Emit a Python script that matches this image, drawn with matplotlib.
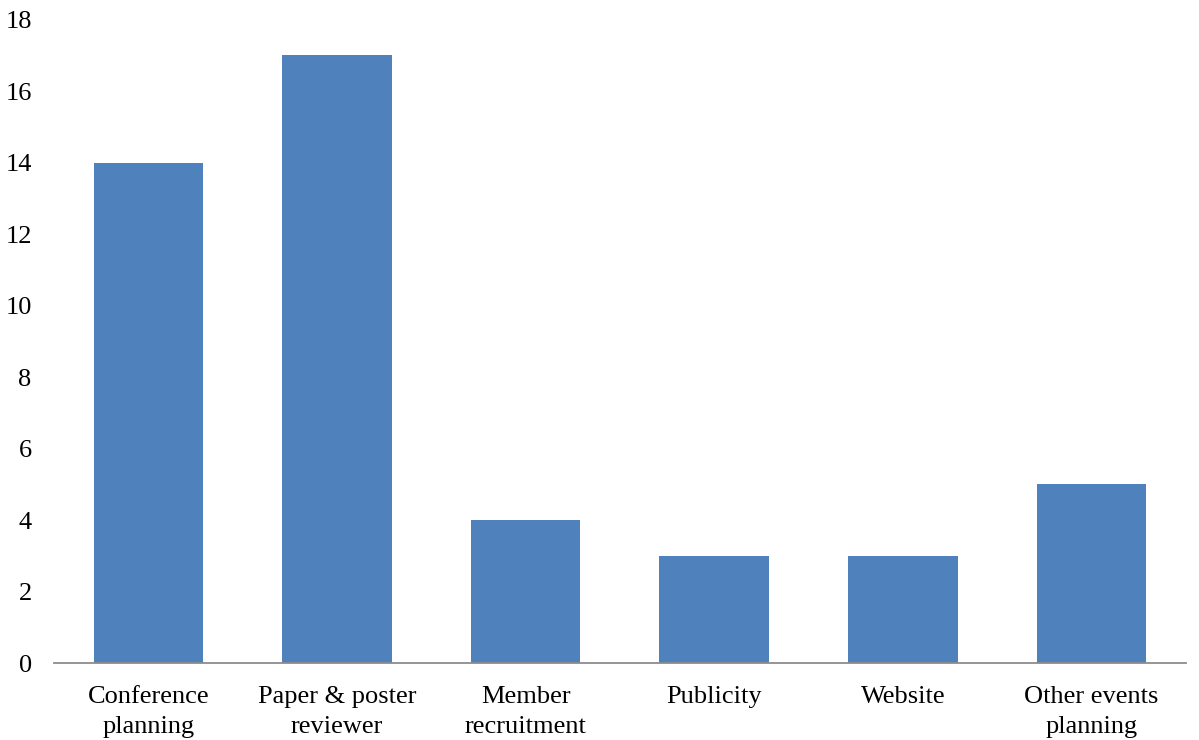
import matplotlib
matplotlib.use("Agg")
import matplotlib.pyplot as plt

categories = ["Conference\nplanning", "Paper & poster\nreviewer", "Member\nrecruitment",
              "Publicity", "Website", "Other events\nplanning"]
counts = [14, 17, 4, 3, 3, 5]
y_ticks = [0, 2, 4, 6, 8, 10, 12, 14, 16, 18]

plt.rcParams["font.family"] = ["Liberation Serif", "DejaVu Serif"]

fig = plt.figure(figsize=(11.99, 7.40), dpi=100)
ax = fig.add_axes([0.045, 0.104, 0.944, 0.8696])

x = range(len(categories))
ax.bar(x, counts, width=0.58, color="#4F81BD", zorder=2)

ax.set_xlim(-0.5, len(categories) - 0.5)
ax.set_ylim(0, 18)
ax.set_yticks(y_ticks)
ax.set_yticklabels([str(v) for v in y_ticks])
ax.set_xticks(list(x))
ax.set_xticklabels(categories)

for side in ["top", "right", "left"]:
    ax.spines[side].set_visible(False)
ax.spines["bottom"].set_color("#8C8C8C")
ax.spines["bottom"].set_linewidth(1.3)

ax.tick_params(axis="y", length=0, pad=16, labelsize=19)
ax.tick_params(axis="x", length=0, pad=16.5, labelsize=19)
for lbl in ax.get_xticklabels():
    lbl.set_linespacing(1.5)

fig.savefig("out.png", dpi=100)
